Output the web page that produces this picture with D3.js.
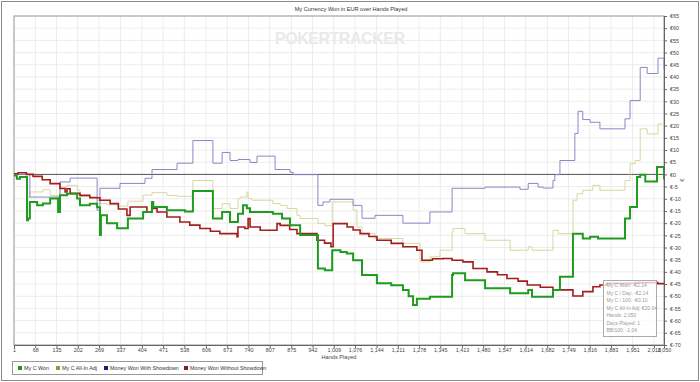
<!DOCTYPE html>
<html>
<head>
<meta charset="utf-8">
<script src="https://cdn.jsdelivr.net/npm/d3@7"></script>
<style>
    body { margin: 0; background: #fff; }
    text { font-family: "Liberation Sans", Arial, sans-serif; }
    .tick line { stroke: #666; }
    .domain { stroke: #666; }
</style>
</head>
<body>
<div class="chart_won"></div>
<script>
// Hand numbers shown on the x axis
var handTicks = [1, 68, 135, 202, 269, 337, 404, 471, 538, 606, 673, 740, 807, 875, 942, 1009,
    1076, 1144, 1211, 1278, 1345, 1413, 1480, 1547, 1614, 1682, 1749, 1816, 1883, 1951, 2018, 2050];

// Euro ticks on the right axis
var euroTicks = [-70, -65, -60, -55, -50, -45, -40, -35, -30, -25, -20, -15, -10, -5, 0,
    5, 10, 15, 20, 25, 30, 35, 40, 45, 50, 55, 60, 65];

var seriesNames = ["My C Won", "My C All-In Adj", "Money Won With Showdown", "Money Won Without Showdown"];

// [hand, euros] step points
var myCWon = [[1, -0.4], [10, -1.8], [20, -1.1], [42, -18.8], [45, -18.1], [51, -11.3], [74, -12.7],
    [92, -11.9], [115, -9.9], [140, -15.4], [146, -8.6], [168, -7.9], [200, -9.9], [209, -12.7],
    [240, -12], [263, -13.5], [272, -24.9], [275, -16.8], [294, -20], [326, -22.1], [360, -18.1],
    [408, -15.4], [436, -11.3], [440, -13.4], [483, -14.7], [515, -14.7], [540, -15.2], [565, -6.8],
    [628, -18.1], [657, -15.4], [682, -19.5], [707, -16.1], [723, -12.7], [735, -13.9], [745, -15.4],
    [817, -16.1], [846, -18.1], [871, -20.9], [903, -24.9], [959, -38.6], [981, -39.3], [1004, -31.1],
    [1030, -31.8], [1050, -32.5], [1070, -35.2], [1098, -41.3], [1145, -44.7], [1190, -45.5],
    [1227, -47.4], [1245, -50], [1259, -53.6], [1271, -51], [1312, -50.2], [1344, -50.2], [1382, -41.3],
    [1385, -40.6], [1423, -43.4], [1486, -46.7], [1565, -48.8], [1622, -47.4], [1634, -50.2],
    [1700, -47.4], [1722, -42], [1763, -24.3], [1794, -26.3], [1817, -25.6], [1842, -26.3],
    [1927, -18.1], [1943, -13.4], [1965, -1.1], [1975, -0.1], [1991, -2.9], [2028, 3.0], [2045, 3.0],
    [2050, -2.14]];

var myCAllIn = [[1, -0.4], [10, -1.8], [20, -1.1], [42, -9.5], [51, -7.2], [92, -6.3], [115, -8.6],
    [140, -12], [146, -5.2], [168, -4.5], [200, -6.5], [209, -9], [263, -10.6], [272, -12],
    [294, -12.5], [326, -13], [360, -11], [408, -8.5], [436, -7.5], [483, -8.6], [515, -9],
    [565, -2.5], [628, -14], [657, -12], [682, -14], [707, -9.9], [714, -9.3], [735, -7.2],
    [739, -9.9], [751, -10.6], [817, -12], [840, -12.7], [862, -14], [893, -16.8], [903, -18.1],
    [959, -20.2], [981, -21], [1004, -11.3], [1070, -14.7], [1082, -21.6], [1098, -24.3],
    [1139, -26.3], [1227, -28.3], [1281, -35.9], [1312, -33.8], [1344, -31.1], [1382, -23.6],
    [1385, -22.2], [1423, -24.3], [1486, -27], [1565, -31.1], [1622, -29.7], [1634, -31.1],
    [1700, -22.9], [1716, -24.3], [1763, -10.6], [1776, -7.9], [1794, -6.5], [1826, -4.5],
    [1848, -6.5], [1927, -2.5], [1943, 4.4], [1959, 5.7], [1975, 18.7], [1997, 16.6],
    [2031, 20.7], [2050, 20.04]];

var wonShowdown = [[1, 0], [51, -9.3], [146, -3.1], [178, -1.5], [263, -14.7], [272, -5.7],
    [335, -3.7], [414, -1.6], [436, 2.0], [515, 4.6], [565, 13.9], [628, 4.6], [657, 9.0],
    [682, 5.7], [707, 6.1], [745, 4.9], [767, 7.5], [824, 2.0], [871, 0.9], [881, -0.1],
    [959, -12.7], [975, -11.3], [997, -10.2], [1070, -12.7], [1098, -18], [1139, -16.8],
    [1227, -20], [1312, -15.4], [1382, -5.7], [1486, -5.2], [1596, -6.1], [1622, -3.7],
    [1653, -5.2], [1669, -5.6], [1700, -2.5], [1706, -0.1], [1722, 5.7], [1769, 16.8],
    [1779, 25.9], [1794, 22.5], [1817, 21.4], [1848, 18.7], [1927, 22.8], [1943, 30.3],
    [1975, 43.9], [1997, 41.4], [2031, 47.7], [2049, 47.7], [2050, 43.4]];

var wonNoShowdown = [[1, 0.3], [14, 0.7], [40, 0], [61, -0.8], [90, -2.2], [115, -3.8], [146, -5.8],
    [162, -7.2], [168, -5.9], [178, -7.8], [209, -8.6], [240, -9.6], [272, -10.6], [304, -12],
    [330, -14.2], [357, -16.8], [367, -13.4], [398, -13.4], [420, -15.4], [436, -14], [452, -15.4],
    [483, -17.5], [524, -19.5], [555, -20.8], [587, -22.2], [620, -23.3], [650, -24.3], [704, -25.6],
    [707, -21.6], [729, -22.2], [739, -18.1], [745, -21.6], [777, -22.9], [830, -20.2], [840, -20.9],
    [870, -22.6], [893, -24.3], [956, -27], [980, -28.2], [1000, -29.7], [1007, -20.2], [1051, -21.6],
    [1070, -22.8], [1092, -24.3], [1120, -25.5], [1145, -27], [1190, -28.3], [1227, -29.7],
    [1271, -31.1], [1287, -35.2], [1320, -34.6], [1353, -34.5], [1382, -35.2], [1416, -35.9],
    [1448, -38.6], [1492, -40], [1525, -41.2], [1555, -42.7], [1590, -43.8], [1619, -45.4],
    [1660, -46.3], [1700, -47.4], [1763, -49.9], [1794, -48.1], [1826, -46.1], [1848, -45.4],
    [1870, -44.7], [1960, -44.4], [2030, -44.8], [2050, -45.2]];

// Tooltip text as in the picture
var tipLines = ["My C Won: -€2.14", "My C / Day: -€2.14", "My C / 100: -€0.10",
    "My C All-In Adj: €20.04", "Hands: 2,050", "Days Played: 1", "BB/100: -1.04"];

var svgWidth = 700;
var svgHeight = 382;
var plot = { left: 14, right: 664, top: 16, bottom: 345 };

var svg = d3
    .select(".chart_won")
    .append("svg")
    .attr("width", svgWidth)
    .attr("height", svgHeight);

// outer frame
svg.append("rect")
    .attr("x", 1.5).attr("y", 1.5)
    .attr("width", svgWidth - 3).attr("height", svgHeight - 3)
    .attr("fill", "#fff")
    .attr("stroke", "#8a8a8a");

var xScale = d3.scaleLinear().domain([1, 2050]).range([plot.left, plot.right]);
var yScale = d3.scaleLinear().domain([-70, 65]).range([plot.bottom, plot.top]);

// watermark
svg.append("text")
    .attr("x", 340).attr("y", 44)
    .attr("text-anchor", "middle")
    .attr("textLength", 130)
    .style("font-size", "16px")
    .style("font-weight", "bold")
    .style("fill", "#e9e9e9")
    .text("POKERTRACKER");

// title
svg.append("text")
    .attr("x", 351).attr("y", 11)
    .attr("text-anchor", "middle")
    .style("font-size", "5.6px")
    .style("fill", "#333")
    .text("My Currency Won in EUR over Hands Played");

// grid
var grid = svg.append("g");
grid.selectAll("line.vg")
    .data(handTicks)
    .enter()
    .append("line")
    .attr("x1", function (d) { return xScale(d); })
    .attr("x2", function (d) { return xScale(d); })
    .attr("y1", plot.top).attr("y2", plot.bottom)
    .attr("stroke", "#ececec");
grid.selectAll("line.hg")
    .data(euroTicks)
    .enter()
    .append("line")
    .attr("x1", plot.left).attr("x2", plot.right)
    .attr("y1", function (d) { return yScale(d); })
    .attr("y2", function (d) { return yScale(d); })
    .attr("stroke", "#ececec");

// plot border
svg.append("rect")
    .attr("x", plot.left).attr("y", plot.top)
    .attr("width", plot.right - plot.left).attr("height", plot.bottom - plot.top)
    .attr("fill", "none")
    .attr("stroke", "#9a9a9a");

// zero line
svg.append("line")
    .attr("x1", plot.left).attr("x2", plot.right)
    .attr("y1", yScale(0)).attr("y2", yScale(0))
    .attr("stroke", "#555");

// lines
var line = d3.line()
    .curve(d3.curveStepAfter)
    .x(function (d) { return xScale(d[0]); })
    .y(function (d) { return yScale(d[1]); });

var series = [
    { data: myCAllIn, color: "#d8d89e", width: 1 },
    { data: wonShowdown, color: "#8888c6", width: 1 },
    { data: wonNoShowdown, color: "#a31d1d", width: 1.6 },
    { data: myCWon, color: "#1f9c1f", width: 2 }
];

svg.append("g")
    .selectAll("path")
    .data(series)
    .enter()
    .append("path")
    .attr("d", function (s) { return line(s.data); })
    .attr("fill", "none")
    .attr("stroke", function (s) { return s.color; })
    .attr("stroke-width", function (s) { return s.width; });

// x axis
var bottomAxis = d3.axisBottom(xScale)
    .tickValues(handTicks)
    .tickSize(3)
    .tickFormat(d3.format(","));
var xAxis = svg.append("g")
    .attr("transform", "translate(0," + plot.bottom + ")")
    .call(bottomAxis);
xAxis.selectAll("text")
    .style("font-size", "5.4px")
    .style("fill", "#444")
    .attr("y", 3.5)
    .attr("dy", "0.7em");

svg.append("text")
    .attr("x", 339).attr("y", 359)
    .attr("text-anchor", "middle")
    .style("font-size", "5.6px")
    .style("fill", "#444")
    .text("Hands Played");

// right y axis
var rightAxis = d3.axisRight(yScale)
    .tickValues(euroTicks)
    .tickSize(3)
    .tickFormat(function (d) { return "€" + d; });
var yAxis = svg.append("g")
    .attr("transform", "translate(" + plot.right + ",0)")
    .call(rightAxis);
yAxis.selectAll("text").style("font-size", "5.4px").style("fill", "#444");

svg.append("text")
    .attr("transform", "translate(684,180) rotate(-90)")
    .attr("text-anchor", "middle")
    .style("font-size", "6px")
    .style("fill", "#444")
    .text("€");

// tooltip box
var tip = svg.append("g");
tip.append("rect")
    .attr("x", 603.5).attr("y", 280.5)
    .attr("width", 53).attr("height", 56)
    .attr("fill", "#fff")
    .attr("fill-opacity", 0.75)
    .attr("stroke", "#aaa");
tip.selectAll("text")
    .data(tipLines)
    .enter()
    .append("text")
    .attr("x", 606.5)
    .attr("y", function (d, i) { return 287 + i * 7.5; })
    .style("font-size", "5px")
    .style("fill", "#999")
    .text(function (d) { return d; });

// legend
var legendColors = ["#2e8b2e", "#8a9a3e", "#1c1c80", "#8b1c1c"];
var legendX = [18, 56, 104, 184];
var legend = svg.append("g");
legend.append("rect")
    .attr("x", 12.5).attr("y", 361.5)
    .attr("width", 250).attr("height", 13)
    .attr("fill", "#fff")
    .attr("stroke", "#999");
var items = legend.selectAll("g.item")
    .data(seriesNames)
    .enter()
    .append("g")
    .attr("transform", function (d, i) { return "translate(" + legendX[i] + ",368)"; });
items.append("rect")
    .attr("x", 0).attr("y", -2)
    .attr("width", 4).attr("height", 4)
    .attr("fill", function (d, i) { return legendColors[i]; });
items.append("text")
    .attr("x", 6).attr("y", 2)
    .style("font-size", "5.4px")
    .style("fill", "#333")
    .text(function (d) { return d; });
</script>
</body>
</html>
